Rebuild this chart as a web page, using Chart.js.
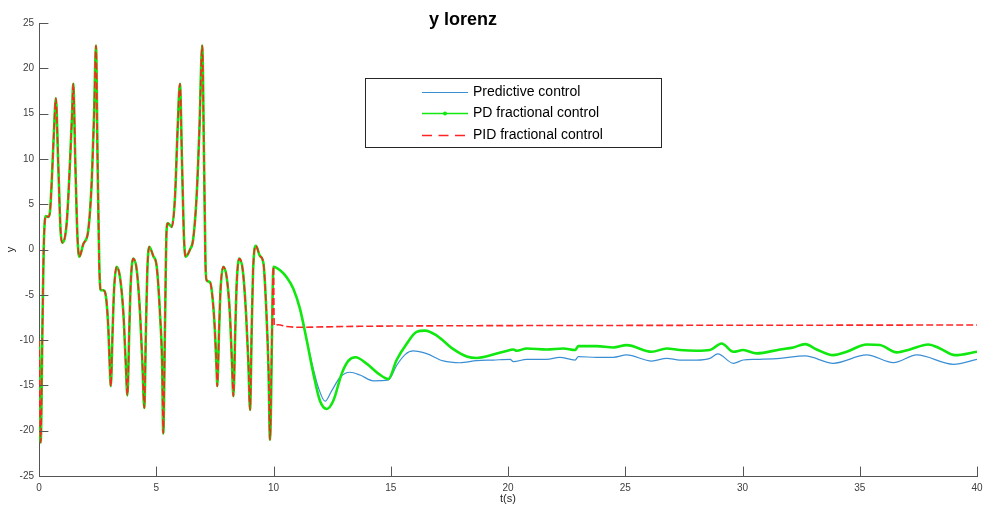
<!DOCTYPE html>
<html>
<head>
<meta charset="utf-8">
<script src="https://cdn.jsdelivr.net/npm/chart.js@4.4.0/dist/chart.umd.min.js"></script>
<style>
  body { margin: 0; background: #fff; }
  #wrap { position: relative; width: 989px; height: 512px; }
</style>
</head>
<body>
<div id="wrap"><canvas id="myChart" width="989" height="512"></canvas></div>
<script>
// uncontrolled lorenz part, same for the three runs (t < 10)
var chaosT = [0, 0.07, 0.15, 0.2, 0.28, 0.4, 0.47, 0.54, 0.64, 0.72, 0.82, 0.92, 0.99,
  1.18, 1.32, 1.41, 1.46, 1.55, 1.64, 1.72, 1.89, 2.1, 2.25, 2.35, 2.43, 2.5, 2.57, 2.63, 2.74,
  2.86, 2.96, 3.03, 3.06, 3.14, 3.2, 3.31, 3.45, 3.6, 3.7, 3.77, 3.85, 3.91, 4.02, 4.17, 4.31,
  4.41, 4.49, 4.56, 4.62, 4.7, 4.87, 5.02, 5.16, 5.25, 5.3, 5.37, 5.44, 5.49, 5.66, 5.8, 5.91,
  6.01, 6.1, 6.18, 6.26, 6.44, 6.57, 6.72, 6.84, 6.96, 7.04, 7.1, 7.15, 7.29, 7.4, 7.5, 7.58,
  7.6, 7.68, 7.74, 7.86, 8.0, 8.14, 8.23, 8.29, 8.37, 8.43, 8.54, 8.69, 8.83, 8.93, 9.0, 9.07,
  9.13, 9.25, 9.42, 9.57, 9.7, 9.79, 9.85];
var chaosY = [-10, -21.3, -8, 0, 3.7, 3.6, 4.2, 7.3, 13.2, 16.7, 9.5, 2.1, 0.75,
  2.9, 9.5, 15, 18.3, 9.5, 1.4, -0.8, 0.6, 2.1, 7.6, 15, 22.5, 9.5, -1.6, -4.5, -4.5,
  -5.3, -8.9, -13.7, -15.1, -8.9, -4.5, -1.9, -3, -7.1, -12.6, -16.1, -8.9, -3.8, -1, -2.3, -7.1,
  -12.6, -17.5, -8.9, -2.3, 0.3, -0.7, -1.9, -7.1, -12.6, -20.3, -8.9, 2.1, 2.9, 2.5, 5.8, 13.2,
  18.3, 9.5, 1.4, -0.8, 0, 1.05, 5.8, 13.2, 22.5, 9.5, -1.6, -3.4, -3.6, -5.3, -8.9, -13.7,
  -15.1, -8.9, -4.5, -1.9, -3, -7.1, -12.6, -16.2, -8.9, -3.8, -1, -2.3, -7.1, -12.6, -17.7, -8.9,
  -2.3, 0.4, -0.7, -1.5, -7.1, -13.5, -21];

// predictive control (t >= 10)
var predT = [10, 10.28, 10.56, 10.85, 11.13, 11.42, 11.7, 11.91, 12.2, 12.48, 12.84, 13.26, 13.69,
  14.26, 14.9, 15.25, 15.61, 15.96, 16.53, 17.24, 17.95, 18.66, 19.37, 20.09, 20.23, 20.8, 21.65,
  22.2, 22.86, 23.0, 23.78, 24.49, 25.06, 26.13, 26.77, 27.33, 28.05, 28.61, 28.95, 29.61, 30.03,
  30.6, 31.6, 32.67, 33.87, 35.3, 36.44, 37.43, 39.0, 40];
var predY = [-1.9, -2.3, -3.06, -4.35, -6.55, -10.05, -13.2, -15.2, -16.75, -15.6, -14.1, -13.55, -13.85,
  -14.5, -14.4, -12.8, -11.6, -11.2, -11.5, -12.3, -12.5, -12.27, -12.2, -12.12, -12.38, -12.12, -12.12,
  -11.9, -12.2, -11.83, -11.9, -11.9, -11.64, -12.31, -12.01, -12.2, -12.2, -12.01, -11.53, -12.56, -12.2,
  -12.12, -12.01, -11.75, -12.56, -11.64, -12.49, -11.64, -12.67, -12.12];

// PD fractional control (t >= 10)
var pdT = [10, 10.28, 10.56, 10.85, 11.13, 11.42, 11.7, 11.98, 12.27, 12.55, 12.91, 13.19, 13.5,
  13.97, 14.47, 14.9, 15.25, 15.68, 16.1, 16.46, 16.96, 17.67, 18.24, 18.66, 19.37, 20.09, 20.23,
  20.37, 20.8, 21.65, 22.36, 22.86, 23.0, 23.78, 24.49, 25.06, 26.13, 26.77, 27.33, 28.05, 28.61,
  29.11, 29.61, 30.03, 30.6, 31.6, 32.17, 32.67, 33.16, 33.87, 34.44, 35.3, 35.86, 36.58, 37.14,
  37.92, 38.42, 39.06, 40];
var pdY = [-1.9, -2.3, -3.06, -4.35, -6.55, -10.05, -13.7, -16.7, -17.6, -16.7, -13.7, -12.3, -11.9,
  -12.6, -13.7, -14.3, -12.2, -10.4, -9.1, -8.95, -9.5, -11.0, -11.8, -11.97, -11.6, -11.1, -11.03,
  -11.18, -10.92, -11.03, -10.92, -11.1, -10.66, -10.66, -10.81, -10.55, -11.29, -10.92, -11.1, -11.18, -11.1,
  -10.37, -11.29, -11.1, -11.47, -11.03, -10.81, -10.44, -11.03, -11.66, -11.29, -10.48, -10.55, -11.36, -11.03,
  -10.48, -10.92, -11.66, -11.29];

// PID fractional control (t >= 10)
var pidT = [9.93, 10, 10.03, 10.2, 10.56, 11.13, 13, 15, 20, 25, 30, 35, 40];
var pidY = [-10, -1.9, -8.4, -8.3, -8.5, -8.58, -8.5, -8.45, -8.4, -8.38, -8.36, -8.35, -8.33];

var xTicks = [0, 5, 10, 15, 20, 25, 30, 35, 40];
var yTicks = [-25, -20, -15, -10, -5, 0, 5, 10, 15, 20, 25];

function pts(ts, ys) {
  return ts.map(function (t, i) { return { x: t, y: ys[i] }; });
}
var chaos = pts(chaosT, chaosY);

var axisColor = '#555555';
var fontName = '"Liberation Sans", Arial, Helvetica, sans-serif';

var decor = {
  id: 'decor',
  afterDatasetsDraw: function (chart) {
    var ctx = chart.ctx, a = chart.chartArea;
    var xs = chart.scales.x, ys = chart.scales.y;
    ctx.save();
    // inward tick marks
    ctx.strokeStyle = axisColor;
    ctx.lineWidth = 1;
    var tl = 9.4;
    ctx.beginPath();
    yTicks.forEach(function (v) {
      var py = Math.round(ys.getPixelForValue(v)) + 0.5;
      ctx.moveTo(a.left, py); ctx.lineTo(a.left + tl, py);
    });
    xTicks.forEach(function (v) {
      var px = Math.round(xs.getPixelForValue(v)) + 0.5;
      ctx.moveTo(px, a.bottom); ctx.lineTo(px, a.bottom - tl);
    });
    ctx.stroke();

    // title
    ctx.fillStyle = '#000';
    ctx.font = 'bold 18px ' + fontName;
    ctx.textAlign = 'center';
    ctx.textBaseline = 'middle';
    ctx.fillText('y lorenz', a.left + (a.right - a.left) * 0.452, 20);

    // axis labels
    ctx.fillStyle = '#262626';
    ctx.font = '11px ' + fontName;
    ctx.fillText('t(s)', (a.left + a.right) / 2, 499);
    ctx.save();
    ctx.translate(11, (a.top + a.bottom) / 2);
    ctx.rotate(-Math.PI / 2);
    ctx.fillText('y', 0, 0);
    ctx.restore();

    // legend box
    var bx = 365.5, by = 78.5, bw = 296, bh = 69;
    ctx.fillStyle = '#fff';
    ctx.fillRect(bx, by, bw, bh);
    ctx.strokeStyle = '#262626';
    ctx.strokeRect(bx, by, bw, bh);
    var rows = [92, 113, 135];
    var x0 = 422, x1 = 468;
    chart.data.datasets.slice().sort(function (p, q) { return p.legendRow - q.legendRow; })
      .forEach(function (ds, i) {
        var ry = rows[i] + 0.5;
        ctx.save();
        ctx.strokeStyle = ds.borderColor;
        ctx.lineWidth = i === 1 ? 1.5 : ds.borderWidth;
        ctx.setLineDash(i === 2 ? [10, 6.5] : []);
        ctx.beginPath(); ctx.moveTo(x0, ry); ctx.lineTo(x1, ry); ctx.stroke();
        if (i === 1) {
          ctx.fillStyle = ds.borderColor;
          ctx.beginPath(); ctx.arc((x0 + x1) / 2, ry, 2, 0, Math.PI * 2); ctx.fill();
        }
        ctx.restore();
        ctx.fillStyle = '#000';
        ctx.font = '14px ' + fontName;
        ctx.textAlign = 'left';
        ctx.textBaseline = 'middle';
        ctx.fillText(ds.label, 473, ry);
      });
    ctx.restore();
  }
};

var ctx = document.getElementById('myChart').getContext('2d');
var myChart = new Chart(ctx, {
  type: 'line',
  data: {
    datasets: [
      {
        label: 'PID fractional control',
        legendRow: 2,
        data: chaos.concat(pts(pidT, pidY)),
        borderColor: '#ff2424',
        borderWidth: 1.6,
        borderDash: [7, 3],
        order: 0
      },
      {
        label: 'PD fractional control',
        legendRow: 1,
        data: chaos.concat(pts(pdT, pdY)),
        borderColor: '#10e810',
        borderWidth: 2.6,
        order: 1
      },
      {
        label: 'Predictive control',
        legendRow: 0,
        data: chaos.concat(pts(predT, predY)),
        borderColor: '#3a8fd4',
        borderWidth: 1.2,
        order: 2
      }
    ]
  },
  options: {
    responsive: false,
    animation: false,
    layout: { padding: { left: 0, right: 12, top: 23, bottom: 0 } },
    elements: {
      point: { radius: 0 },
      line: { cubicInterpolationMode: 'monotone', fill: false }
    },
    plugins: {
      legend: { display: false },
      title: { display: false },
      tooltip: { enabled: false }
    },
    scales: {
      x: {
        type: 'linear',
        min: 0, max: 40,
        afterFit: function (s) { s.height = 36; },
        afterBuildTicks: function (s) { s.ticks = xTicks.map(function (v) { return { value: v }; }); },
        grid: { display: false, drawTicks: false },
        border: { display: true, color: axisColor, width: 1 },
        ticks: { padding: 6, color: '#404040', font: { size: 10, family: fontName }, maxRotation: 0 }
      },
      y: {
        type: 'linear',
        min: -25, max: 25,
        afterFit: function (s) { s.width = 39; },
        afterBuildTicks: function (s) { s.ticks = yTicks.map(function (v) { return { value: v }; }); },
        grid: { display: false, drawTicks: false },
        border: { display: true, color: axisColor, width: 1 },
        ticks: { padding: 5, color: '#404040', font: { size: 10, family: fontName } }
      }
    }
  },
  plugins: [decor]
});
</script>
</body>
</html>
